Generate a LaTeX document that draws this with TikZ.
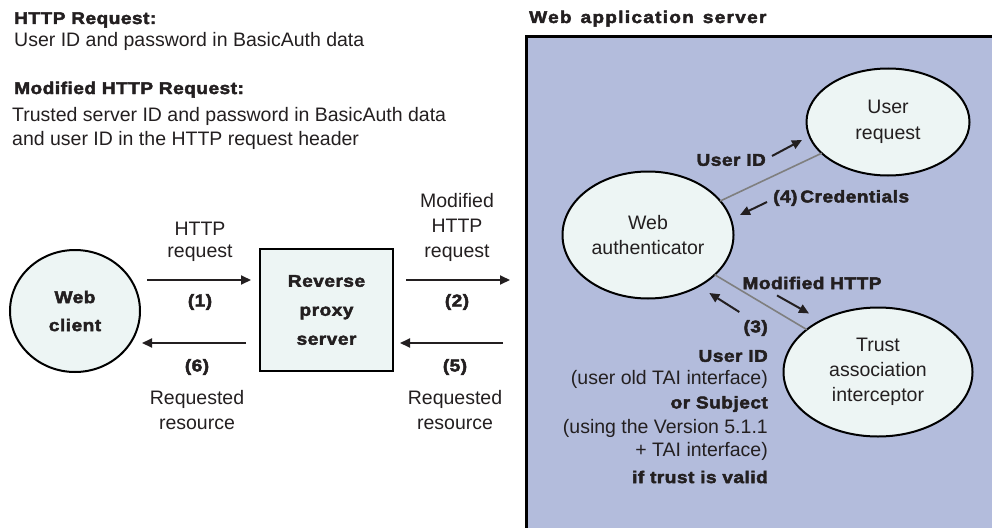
\documentclass[tikz,border=0pt]{standalone}
\usepackage{fontspec}
\setmainfont{Liberation Sans}
\newfontfamily\heavy{Liberation Sans Bold}[FakeBold=2.6,FakeStretch=1.12,LetterSpace=3]
\usetikzlibrary{shapes.geometric,arrows.meta,calc}
\definecolor{ink}{HTML}{231F20}
\definecolor{lav}{HTML}{B3BCDC}
\definecolor{pale}{HTML}{EDF5F4}
\definecolor{wirecol}{HTML}{7F7F7F}

\tikzset{
  txt/.style={font=\fontsize{19.5}{24}\selectfont, text=ink, inner sep=0pt, align=center},
  hv/.style={font=\heavy\fontsize{17}{24}\selectfont, text=ink, inner sep=0pt, align=center},
  bubble/.style={ellipse, draw=black, line width=2pt, fill=pale, inner sep=0pt, outer sep=0pt},
  arr/.style={draw=ink, line width=2pt, -{Triangle[length=10pt,width=9pt]}},
  link/.style={draw=wirecol, line width=1.6pt},
}

\begin{document}
\begin{tikzpicture}[x=1pt,y=-1pt]
\useasboundingbox (0,0) rectangle (992,527);

% headings and legend text
\node[hv, anchor=base west] (h1) at (14,24) {HTTP Request:};
\node[txt, anchor=base west] (l1) at (14,47) {User ID and password in BasicAuth data};
\node[hv, anchor=base west] (h2) at (14,94) {Modified HTTP Request:};
\node[txt, anchor=base west] (l2) at (12,121) {Trusted server ID and password in BasicAuth data};
\node[txt, anchor=base west] (l3) at (12,145) {and user ID in the HTTP request header};
\node[hv, anchor=base west, font=\heavy\fontsize{17}{24}\selectfont\addfontfeature{LetterSpace=7.5}]
  (h3) at (529,23) {Web\hspace{9pt}application\hspace{9pt}server};

% application server area
\node[draw=black, line width=3pt, fill=lav, minimum width=480pt, minimum height=510pt,
      anchor=north west, inner sep=0pt, outer sep=0pt] (was) at (526,37) {};

% client and proxy
\node[bubble, minimum width=130pt, minimum height=122pt, hv,
      font=\heavy\fontsize{17}{28}\selectfont] (wc) at (75,311) {Web\\client};
\node[draw=black, line width=2pt, fill=pale, minimum width=133pt, minimum height=122pt,
      hv, font=\heavy\fontsize{17}{29}\selectfont, outer sep=0pt] (rp) at (326.5,310) {Reverse\\proxy\\server};

% components inside the server
\node[bubble, minimum width=163pt, minimum height=107pt, txt,
      font=\fontsize{19.5}{26}\selectfont] (ur) at (888,122) {User\\request};
\node[bubble, minimum width=171pt, minimum height=127pt, txt,
      font=\fontsize{19.5}{25}\selectfont] (wa) at (648,235) {Web\\authenticator};
\node[bubble, minimum width=189pt, minimum height=129pt, txt,
      font=\fontsize{19.5}{25}\selectfont] (tai) at (878,372) {Trust\\association\\interceptor};

\draw[link] (wa) -- (ur);
\draw[link] (wa) -- (tai);

% request / response arrows
\draw[arr] ([shift={(7,-31)}]wc.east) -- ([shift={(-9,-30)}]rp.west);
\draw[arr] ([shift={(-14,33)}]rp.west) -- ([shift={(2,32)}]wc.east);
\draw[arr] ([shift={(13,-30)}]rp.east) -- ([shift={(-16,243)}]was.north west);
\draw[arr] ([shift={(-23,306)}]was.north west) -- ([shift={(7,33)}]rp.east);

\node[txt, font=\fontsize{19.5}{22}\selectfont] (t1) at (200,242) {HTTP\\request};
\node[hv] (n1) at (200,302) {(1)};
\node[hv] (n6) at (197,367) {(6)};
\node[txt, font=\fontsize{19.5}{25}\selectfont] (t6) at (197,410) {Requested\\resource};
\node[txt, font=\fontsize{19.5}{25}\selectfont] (t2) at (457,227) {Modified\\HTTP\\request};
\node[hv] (n2) at (457,302) {(2)};
\node[hv] (n5) at (455,367) {(5)};
\node[txt, font=\fontsize{19.5}{25}\selectfont] (t5) at (455,410) {Requested\\resource};

% labels along the internal links
\node[hv, anchor=east] (uid) at (766,160) {User ID};
\draw[arr] ([shift={(6,-4)}]uid.east) -- ++(30,-16);
\node[hv, anchor=west] (cred) at (773,198) {(4)\,Credentials};
\draw[arr] ([shift={(-6,4)}]cred.west) -- ++(-27,13);
\node[hv] (mod) at (812,283) {Modified HTTP};
\draw[arr] ([shift={(-35,6)}]mod.south) -- ++(32,18);
\node[hv, anchor=east] (n3) at (768,328) {(3)};
\draw[arr] ([shift={(-4,-16)}]n3.west) -- ++(-30,-19);

\node[hv, anchor=east] (r1) at (768,356) {User ID};
\node[txt, anchor=east] (r2) at (768,379) {(user old TAI interface)};
\node[hv, anchor=east] (r3) at (768,404) {or Subject};
\node[txt, anchor=east] (r4) at (768,428) {(using the Version 5.1.1};
\node[txt, anchor=east] (r5) at (768,451) {+ TAI interface)};
\node[hv, anchor=east] (r6) at (768,477) {if trust is valid};
\end{tikzpicture}
\end{document}
